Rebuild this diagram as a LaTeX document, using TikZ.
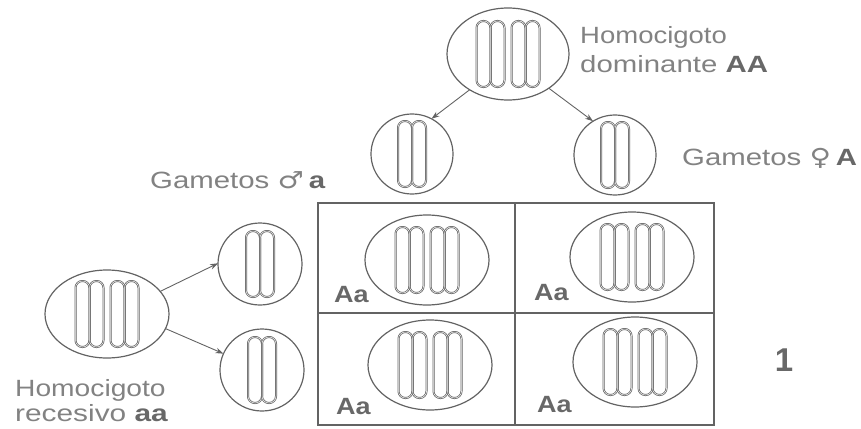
\documentclass[tikz,border=0pt]{standalone}
\usepackage{fontspec}
\usepackage{graphicx}
\setmainfont{Liberation Sans}
\newfontfamily\symfont{DejaVu Sans}
\usetikzlibrary{shapes.geometric,arrows.meta}
\definecolor{ink}{HTML}{636363}
\definecolor{txt}{HTML}{828282}
\definecolor{txtb}{HTML}{686868}
\newcommand{\wide}[2]{\scalebox{#1}[1]{#2}}
\newcommand{\bld}[1]{{\bfseries\color{txtb}#1}}
\tikzset{
  cell/.style={ellipse, draw=ink, line width=1.2pt, inner sep=0pt, outer sep=0pt},
  box/.style={rectangle, draw=ink, line width=1.2pt, inner sep=0pt, outer sep=0pt},
  rod/.style={draw=ink, line width=0.75pt, double=white, double distance=0.5pt, rounded corners=6.8pt},
  arr/.style={draw=ink, line width=0.9pt, -{Stealth[length=8pt,width=5.5pt]}},
  lbl/.style={text=txt, font=\fontsize{23.5}{26}\selectfont, inner sep=0pt},
  onepair/.pic={
    \draw[rod] (-14,-33) rectangle (0,33);
    \draw[rod] (0,-33) rectangle (14,33);
  },
  twopair/.pic={
    \pic at (-17.5,0) {onepair};
    \pic at (17.5,0) {onepair};
  }
}
\begin{document}
\begin{tikzpicture}[x=1pt,y=-1pt]
\useasboundingbox (0,0) rectangle (861,428);

% dominant parent and its gametes
\node[cell, minimum width=122pt, minimum height=92pt] (pAA) at (508,54) {};
\pic at (pAA) {twopair};
\node[cell, minimum width=82pt, minimum height=80pt] (gA1) at (412,154) {};
\pic at (gA1) {onepair};
\node[cell, minimum width=82pt, minimum height=80pt] (gA2) at (615,155) {};
\pic at (gA2) {onepair};
\draw[arr] (pAA.223) -- (gA1.61);
\draw[arr] (pAA.320) -- (gA2.123);

% recessive parent and its gametes
\node[cell, minimum width=124pt, minimum height=88pt] (paa) at (107,314) {};
\pic at (paa) {twopair};
\node[cell, minimum width=84pt, minimum height=82pt] (ga1) at (260,264) {};
\pic at (ga1) {onepair};
\node[cell, minimum width=84pt, minimum height=82pt] (ga2) at (262,370) {};
\pic at (ga2) {onepair};
\draw[arr] (paa.23) -- (ga1.179);
\draw[arr] (paa.346) -- (ga2.157);

% Punnett square
\node[box, minimum width=197pt, minimum height=110pt] (c11) at (416.5,258) {};
\node[box, minimum width=199pt, minimum height=110pt] (c12) at (614.5,258) {};
\node[box, minimum width=197pt, minimum height=112pt] (c21) at (416.5,369) {};
\node[box, minimum width=199pt, minimum height=112pt] (c22) at (614.5,369) {};

\node[cell, minimum width=124pt, minimum height=90pt] (z11) at (427,260) {};
\pic at (z11) {twopair};
\node[cell, minimum width=124pt, minimum height=90pt] (z12) at (632,257) {};
\pic at (z12) {twopair};
\node[cell, minimum width=124pt, minimum height=90pt] (z21) at (430,365) {};
\pic at (z21) {twopair};
\node[cell, minimum width=124pt, minimum height=90pt] (z22) at (635,362) {};
\pic at (z22) {twopair};

\node[lbl, anchor=base west] (t11) at (334,302) {\wide{1.15}{\bld{Aa}}};
\node[lbl, anchor=base west] (t12) at (534,300) {\wide{1.15}{\bld{Aa}}};
\node[lbl, anchor=base west] (t21) at (336,414) {\wide{1.15}{\bld{Aa}}};
\node[lbl, anchor=base west] (t22) at (537,412) {\wide{1.15}{\bld{Aa}}};

% labels
\node[lbl, anchor=base west] (h1) at (580,44) {\wide{1.17}{Homocigoto}};
\node[lbl, anchor=base west] (h2) at (580,72) {\wide{1.25}{dominante \bld{AA}}};
\node[lbl, anchor=base west] (h3) at (15,396) {\wide{1.2}{Homocigoto}};
\node[lbl, anchor=base west] (h4) at (15,421) {\wide{1.27}{recesivo \bld{aa}}};
\node[lbl, anchor=base west] (gm) at (150,188) {\wide{1.25}{Gametos {\symfont\char"2642}\,\bld{a}}};
\node[lbl, anchor=base west] (gf) at (682,165) {\wide{1.25}{Gametos {\symfont\char"2640}\,\bld{A}}};
\node[text=txtb, font=\fontsize{33}{36}\selectfont\bfseries, inner sep=0pt] (n1) at (784,360) {1};
\end{tikzpicture}
\end{document}
